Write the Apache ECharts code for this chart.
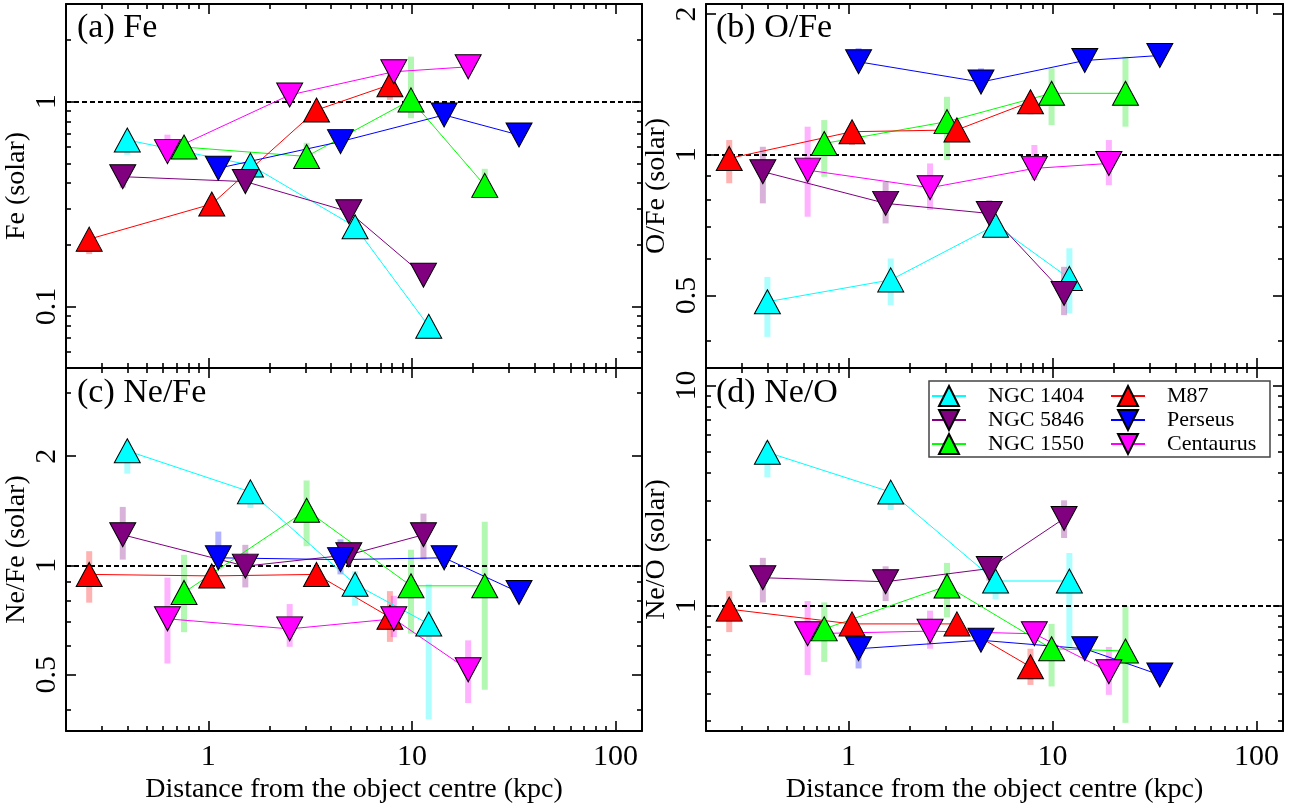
<!DOCTYPE html>
<html><head><meta charset="utf-8">
<script src="https://cdn.jsdelivr.net/npm/echarts@6/dist/echarts.min.js"></script>
<style>html,body{margin:0;padding:0;background:#fff}#c{width:1299px;height:805px}</style>
</head><body><div id="c"></div>
<script>
// ---------------- data ----------------
const galaxies = ['NGC 1404', 'NGC 5846', 'NGC 1550', 'M87', 'Perseus', 'Centaurus'];
const pointsUp = [true, false, true, true, false, false];
const lineColors = ['#00ffff', '#800080', '#00ff00', '#ff0000', '#0000ff', '#ff00ff'];
const barColors = ['rgba(0,255,255,0.32)', 'rgba(128,0,128,0.3)', 'rgba(0,230,0,0.3)',
                   'rgba(255,0,0,0.3)', 'rgba(0,0,255,0.3)', 'rgba(255,0,255,0.3)'];

// radius (kpc) per galaxy, order as galaxies
const radius = [
  [0.40, 1.61, 5.26, 12.1],
  [0.38, 1.52, 4.9, 11.4],
  [0.76, 3.04, 9.9, 22.8],
  [0.26, 1.04, 3.4, 7.8],
  [1.12, 4.46, 14.4, 33.6],
  [0.63, 2.51, 8.15, 18.9]
];

// (a) Fe
const feVal = [
  [0.65, 0.49, 0.245, 0.08],
  [0.43, 0.407, 0.29, 0.142],
  [0.60, 0.54, 1.02, 0.39],
  [0.213, 0.316, 0.91, 1.21],
  [0.473, 0.638, 0.861, 0.687],
  [0.57, 1.078, 1.40, 1.48]
];
const feLo = [
  [0.55, 0.46, 0.23, 0.075],
  [0.38, 0.39, 0.27, 0.135],
  [0.56, 0.47, 0.83, 0.36],
  [0.18, 0.30, 0.87, 1.02],
  [0.44, 0.61, 0.82, 0.66],
  [0.52, 1.03, 1.33, 1.42]
];
const feHi = [
  [0.72, 0.52, 0.26, 0.085],
  [0.49, 0.43, 0.31, 0.15],
  [0.64, 0.63, 1.66, 0.47],
  [0.23, 0.33, 0.95, 1.40],
  [0.50, 0.67, 0.90, 0.72],
  [0.69, 1.12, 1.47, 1.54]
];

// (b) O/Fe
const ofeVal = [
  [0.485, 0.54, 0.707, 0.544],
  [0.92, 0.787, 0.749, 0.505],
  [1.057, 1.177, 1.353, 1.353],
  [0.982, 1.12, 1.13, 1.298],
  [1.58, 1.43, 1.59, 1.63],
  [0.927, 0.85, 0.935, 0.958]
];
const ofeLo = [
  [0.408, 0.477, 0.68, 0.458],
  [0.787, 0.713, 0.72, 0.454],
  [0.897, 0.974, 1.157, 1.148],
  [0.869, 1.049, 1.08, 1.22],
  [1.52, 1.38, 1.54, 1.58],
  [0.737, 0.762, 0.883, 0.861]
];
const ofeHi = [
  [0.548, 0.60, 0.73, 0.631],
  [1.04, 0.875, 0.80, 0.576],
  [1.186, 1.33, 1.53, 1.62],
  [1.075, 1.167, 1.17, 1.35],
  [1.69, 1.53, 1.65, 1.68],
  [1.148, 0.958, 1.049, 1.075]
];

// (c) Ne/Fe
const nefeVal = [
  [2.07, 1.595, 0.888, 0.69],
  [1.215, 0.996, 1.07, 1.215],
  [0.843, 1.42, 0.879, 0.879],
  [0.945, 0.936, 0.945, 0.72],
  [1.05, 1.038, 1.05, 0.843],
  [0.713, 0.669, 0.713, 0.516]
];
const nefeLo = [
  [1.79, 1.44, 0.775, 0.377],
  [1.038, 0.87, 1.0, 1.04],
  [0.655, 1.13, 0.649, 0.455],
  [0.79, 0.89, 0.9, 0.616],
  [1.006, 0.945, 1.0, 0.80],
  [0.537, 0.597, 0.635, 0.418]
];
const nefeHi = [
  [2.2, 1.7, 0.965, 0.888],
  [1.45, 1.14, 1.13, 1.39],
  [1.07, 1.715, 1.105, 1.32],
  [1.095, 0.98, 0.99, 0.85],
  [1.24, 1.18, 1.09, 0.90],
  [0.926, 0.783, 0.825, 0.622]
];

// (d) Ne/O
const neoVal = [
  [4.97, 3.28, 1.295, 1.295],
  [1.34, 1.285, 1.475, 2.49],
  [0.785, 1.23, 0.638, 0.623],
  [0.965, 0.827, 0.827, 0.528],
  [0.638, 0.697, 0.638, 0.485],
  [0.746, 0.767, 0.746, 0.502]
];
const neoLo = [
  [3.83, 2.72, 1.07, 0.65],
  [1.035, 1.05, 1.3, 2.03],
  [0.556, 0.886, 0.43, 0.294],
  [0.759, 0.77, 0.78, 0.437],
  [0.519, 0.64, 0.6, 0.46],
  [0.485, 0.638, 0.7, 0.394]
];
const neoHi = [
  [5.6, 3.5, 1.4, 1.735],
  [1.65, 1.51, 1.6, 3.01],
  [1.035, 1.565, 0.827, 1.0],
  [1.168, 0.87, 0.87, 0.638],
  [0.746, 0.75, 0.68, 0.51],
  [1.05, 0.95, 0.84, 0.65]
];

// axes / tick labels
const xRange = [0.2, 135];
const xMajor = [1, 10, 100];
const xMinor = [0.3, 0.4, 0.5, 0.6, 0.7, 0.8, 0.9, 2, 3, 4, 5, 6, 7, 8, 9, 20, 30, 40, 50, 60, 70, 80, 90];
const xName = 'Distance from the object centre (kpc)';

const panelTitles = ['(a) Fe', '(b) O/Fe', '(c) Ne/Fe', '(d) Ne/O'];
const yNames = ['Fe (solar)', 'O/Fe (solar)', 'Ne/Fe (solar)', 'Ne/O (solar)'];
const yRanges = [[0.05, 3], [0.35, 2.1], [0.35, 3.5], [0.27, 12]];
const yMajor = [[0.1, 1], [0.5, 1, 2], [0.5, 1, 2], [1, 10]];
const yMinor = [
  [0.06, 0.07, 0.08, 0.09, 0.2, 0.3, 0.4, 0.5, 0.6, 0.7, 0.8, 0.9, 2, 3],
  [0.4, 0.6, 0.7, 0.8, 0.9],
  [0.4, 0.6, 0.7, 0.8, 0.9, 3],
  [0.3, 0.4, 0.5, 0.6, 0.7, 0.8, 0.9, 2, 3, 4, 5, 6, 7, 8, 9]
];
const panelVals = [feVal, ofeVal, nefeVal, neoVal];
const panelLo = [feLo, ofeLo, nefeLo, neoLo];
const panelHi = [feHi, ofeHi, nefeHi, neoHi];

// legend arrangement (column 1 then column 2)
const legendOrder = ['NGC 1404', 'NGC 5846', 'NGC 1550', 'M87', 'Perseus', 'Centaurus'];

// ---------------- layout ----------------
const FONT = "'Liberation Serif', 'Times New Roman', serif";
const grids = [
  {left: 66, top: 4, width: 576, height: 364},
  {left: 706, top: 4, width: 577, height: 364},
  {left: 66, top: 368, width: 576, height: 367},
  {left: 706, top: 368, width: 577, height: 367}
];
const titlePos = [[77, 11], [716, 11], [77, 376], [716, 376]];

const fmt = v => String(Math.round(v * 10000) / 10000);

function baseAxis(extra) {
  return Object.assign({
    type: 'log', logBase: 10, silent: true,
    splitLine: {show: false}, minorTick: {show: false}, minorSplitLine: {show: false},
    axisPointer: {show: false}
  }, extra);
}
function tickCfg(vals, len) {
  return {show: true, inside: true, length: len, customValues: vals, lineStyle: {color: '#000', width: 1.6}};
}

const xAxes = [], yAxes = [];
for (let g = 0; g < 4; g++) {
  const lab = g >= 2;
  ['bottom', 'top'].forEach((pos, k) => {
    xAxes.push(baseAxis({
      gridIndex: g, position: pos, min: xRange[0], max: xRange[1],
      axisLine: {show: true, onZero: false, lineStyle: {color: '#000', width: 2}},
      axisTick: tickCfg(xMajor, 10),
      axisLabel: {show: lab && k === 0, customValues: xMajor, formatter: fmt, fontSize: 30,
                  fontFamily: FONT, color: '#000', margin: 11},
      name: (lab && k === 0) ? xName : '', nameLocation: 'middle', nameGap: 45,
      nameTextStyle: {fontSize: 28, fontFamily: FONT, color: '#000'}
    }));
    xAxes.push(baseAxis({
      gridIndex: g, position: pos, min: xRange[0], max: xRange[1],
      axisLine: {show: false, onZero: false},
      axisTick: tickCfg(xMinor, 5),
      axisLabel: {show: false}
    }));
  });
  ['left', 'right'].forEach((pos, k) => {
    yAxes.push(baseAxis({
      gridIndex: g, position: pos, min: yRanges[g][0], max: yRanges[g][1],
      axisLine: {show: true, onZero: false, lineStyle: {color: '#000', width: 2}},
      axisTick: tickCfg(yMajor[g], 10),
      axisLabel: {show: k === 0, customValues: yMajor[g], formatter: fmt, fontSize: 30, rotate: 90,
                  fontFamily: FONT, color: '#000', margin: 4},
      name: k === 0 ? yNames[g] : '', nameLocation: 'middle', nameGap: 31, nameRotate: 90,
      nameTextStyle: {fontSize: 28, fontFamily: FONT, color: '#000'}
    }));
    yAxes.push(baseAxis({
      gridIndex: g, position: pos, min: yRanges[g][0], max: yRanges[g][1],
      axisLine: {show: false, onZero: false},
      axisTick: tickCfg(yMinor[g], 5),
      axisLabel: {show: false}
    }));
  });
}

const series = [];
for (let p = 0; p < 4; p++) {
  for (let g = 0; g < 6; g++) {
    series.push({
      type: 'custom', name: galaxies[g] + ' error', xAxisIndex: p * 4, yAxisIndex: p * 4, z: 1,
      silent: true,
      data: radius[g].map((r, i) => [r, panelLo[p][g][i], panelHi[p][g][i]]),
      encode: {x: 0, y: [1, 2]},
      renderItem: (params, api) => {
        const x = api.value(0);
        const a = api.coord([x, api.value(1)]);
        const b = api.coord([x, api.value(2)]);
        return {type: 'rect', shape: {x: a[0] - 3, y: b[1], width: 6, height: a[1] - b[1]},
                style: {fill: barColors[g]}};
      }
    });
  }
  for (let g = 0; g < 6; g++) {
    const s = {
      type: 'line', name: galaxies[g], xAxisIndex: p * 4, yAxisIndex: p * 4, z: 3,
      data: radius[g].map((r, i) => [r, panelVals[p][g][i]]),
      symbol: 'triangle', symbolSize: [26, 24], symbolRotate: pointsUp[g] ? 0 : 180,
      showAllSymbol: true,
      lineStyle: {color: lineColors[g], width: 1},
      itemStyle: {color: lineColors[g], borderColor: '#000', borderWidth: 1},
      emphasis: {disabled: true}
    };
    if (g === 0) {
      s.markLine = {
        silent: true, symbol: 'none', z: 2, label: {show: false},
        lineStyle: {color: '#000', type: [5, 3], width: 2},
        data: [{yAxis: 1}]
      };
    }
    series.push(s);
  }
}

const option = {
  animation: false,
  backgroundColor: '#fff',
  textStyle: {fontFamily: FONT},
  title: panelTitles.map((t, i) => ({
    text: t, left: titlePos[i][0], top: titlePos[i][1], padding: 0,
    textStyle: {fontSize: 34, fontWeight: 'normal', fontFamily: FONT, color: '#000'}
  })),
  grid: grids,
  xAxis: xAxes,
  yAxis: yAxes,
  legend: {
    data: legendOrder.map((n, i) => ({name: n, textStyle: {width: i < 3 ? 122 : 90}})),
    orient: 'vertical', left: 929, top: 381, height: 76,
    padding: [3, 13, 1, 2], itemGap: 0, itemWidth: 34, itemHeight: 25,
    selectedMode: false, z: 10,
    borderColor: '#444', borderWidth: 1.5, backgroundColor: '#fff',
    textStyle: {fontSize: 22, fontFamily: FONT, color: '#000', padding: [0, 0, 0, 17], lineHeight: 24}
  },
  series: series
};

const chart = echarts.init(document.getElementById('c'), null, {renderer: 'canvas'});
chart.setOption(option);
</script>
</body></html>
